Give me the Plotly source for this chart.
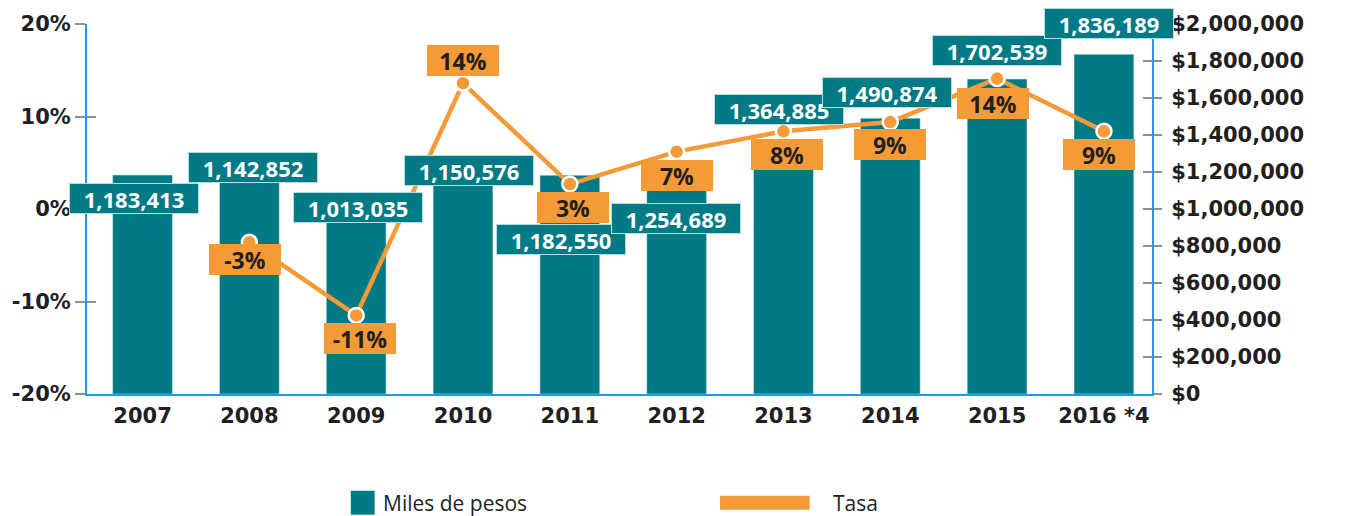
import plotly.graph_objects as go

# ---------------- data ----------------
years = ["2007", "2008", "2009", "2010", "2011", "2012", "2013", "2014", "2015", "2016 *4"]
miles_de_pesos = [1183413, 1142852, 1013035, 1150576, 1182550, 1254689, 1364885, 1490874, 1702539, 1836189]
tasa = [None, -3.6, -11.5, 13.6, 2.7, 6.2, 8.4, 9.4, 14.1, 8.4]
tasa_labels = [None, "-3%", "-11%", "14%", "3%", "7%", "8%", "9%", "14%", "9%"]
money_ticks = [0, 200000, 400000, 600000, 800000, 1000000, 1200000, 1400000, 1600000, 1800000, 2000000]
money_tick_text = [f"${v:,}" for v in money_ticks]
pct_ticks = [-20, -10, 0, 10, 20]
pct_tick_text = [f"{v}%" for v in pct_ticks]

# ---------------- styles / label offsets (pixels) ----------------
TEAL = "#007A85"
ORANGE = "#F49A36"
DARK = "#231F20"
BLUE = "#1E9BEA"
GRAY = "#8F8F8F"
W, H = 1345, 516
L, R, T, B = 82, 193, 23, 122
bar_lbl_dx = [-9, 3.5, 1.7, 5.7, -9, -1, -4, -3, 0, 5]
bar_lbl_dy = [-23.5, 15, -1, 10.6, -64.3, -56.7, 31.9, 25.6, 28.9, 30.9]
pct_lbl_dx = [0, -4, 4, 0, 3, 0, 4, 0, -4, -5]
pct_lbl_dy = [0, -17, -23, 22.7, -23.7, -24, -23.3, -22, -24.7, -23]

AX_FONT = dict(family="DejaVu Sans", size=21, color=DARK, weight="bold")
LBL_FONT = dict(family="Open Sans", size=22, color="white", weight="bold")
PCT_FONT = dict(family="Open Sans", size=23, color=DARK, weight="bold")


def px(xp):
    return (xp - L) / (W - L - R)


def py(yp):
    return (H - B - yp) / (H - T - B)


fig = go.Figure()

fig.add_trace(go.Bar(
    x=years, y=miles_de_pesos, yaxis="y", marker_color=TEAL, width=0.56,
    name="Miles de pesos", showlegend=False, hoverinfo="x+y"))

fig.add_trace(go.Scatter(
    x=years, y=tasa, yaxis="y2", mode="lines+markers", name="Tasa",
    line=dict(color=ORANGE, width=4.5), connectgaps=False,
    marker=dict(size=15, color=ORANGE, line=dict(color="white", width=2.5)),
    showlegend=False))

# dummy traces so the tick-only helper axes are drawn
fig.add_trace(go.Scatter(x=[years[0]], y=[None], yaxis="y3", showlegend=False, hoverinfo="skip"))
fig.add_trace(go.Scatter(x=[years[0]], y=[None], yaxis="y4", showlegend=False, hoverinfo="skip"))

annotations = []
for i, v in enumerate(miles_de_pesos):
    annotations.append(dict(
        x=i, y=v, xref="x", yref="y", text=f"{v:,}", showarrow=False,
        xanchor="center", yanchor="middle", xshift=bar_lbl_dx[i], yshift=bar_lbl_dy[i],
        bgcolor=TEAL, bordercolor="#B9DCDF", borderwidth=1, borderpad=1,
        width=126, height=27, font=LBL_FONT))
for i, v in enumerate(tasa):
    if v is None:
        continue
    annotations.append(dict(
        x=i, y=v, xref="x", yref="y2", text=tasa_labels[i], showarrow=False,
        xanchor="center", yanchor="middle", xshift=pct_lbl_dx[i], yshift=pct_lbl_dy[i],
        bgcolor=ORANGE, borderwidth=0, borderpad=1,
        width=70, height=29, font=PCT_FONT))

# manual legend
annotations.append(dict(x=px(377), y=py(503), xref="paper", yref="paper", text="Miles de pesos",
                        showarrow=False, xanchor="left", yanchor="middle",
                        font=dict(family="Open Sans", size=21, color=DARK)))
annotations.append(dict(x=px(829), y=py(503), xref="paper", yref="paper", text="Tasa",
                        showarrow=False, xanchor="left", yanchor="middle",
                        font=dict(family="Open Sans", size=21, color=DARK)))
shapes = [
    dict(type="rect", xref="paper", yref="paper", x0=px(347), x1=px(371), y0=py(515), y1=py(491),
         fillcolor=TEAL, line=dict(width=0)),
    dict(type="rect", xref="paper", yref="paper", x0=px(718), x1=px(808), y0=py(510), y1=py(496),
         fillcolor=ORANGE, line=dict(width=0)),
]

fig.update_layout(
    width=W, height=H, margin=dict(l=L, r=R, t=T, b=B),
    paper_bgcolor="white", plot_bgcolor="white",
    showlegend=False, bargap=0.44,
    annotations=annotations, shapes=shapes,
    xaxis=dict(type="category", range=[-0.52, 9.45], showline=True, linecolor=BLUE, linewidth=2,
               ticks="outside", ticklen=2, tickcolor="rgba(0,0,0,0)", tickfont=AX_FONT,
               showgrid=False, zeroline=False, fixedrange=True),
    yaxis=dict(side="right", range=[0, 2000000], tickvals=money_ticks, ticktext=money_tick_text,
               showline=True, linecolor=BLUE, linewidth=2,
               ticks="outside", ticklen=8, tickcolor=GRAY, tickwidth=1.5,
               ticklabelstandoff=5, tickfont=AX_FONT, showgrid=False, zeroline=False),
    yaxis2=dict(side="left", overlaying="y", range=[-20, 20], tickvals=pct_ticks, ticktext=pct_tick_text,
                showline=True, linecolor=BLUE, linewidth=2, ticks="outside", ticklen=10,
                tickcolor=GRAY, tickwidth=1.5, tickfont=AX_FONT, showgrid=False, zeroline=False),
    yaxis3=dict(side="left", overlaying="y", range=[-20, 20], tickvals=pct_ticks,
                showticklabels=False, showline=False, ticks="inside", ticklen=9,
                tickcolor=GRAY, tickwidth=1.5, showgrid=False, zeroline=False),
    yaxis4=dict(side="right", overlaying="y", range=[0, 2000000], tickvals=money_ticks,
                showticklabels=False, showline=False, ticks="inside", ticklen=9,
                tickcolor=GRAY, tickwidth=1.5, showgrid=False, zeroline=False),
)

fig.write_html("out.html", config={"displayModeBar": False},
               post_script="document.body.style.margin='0';")
